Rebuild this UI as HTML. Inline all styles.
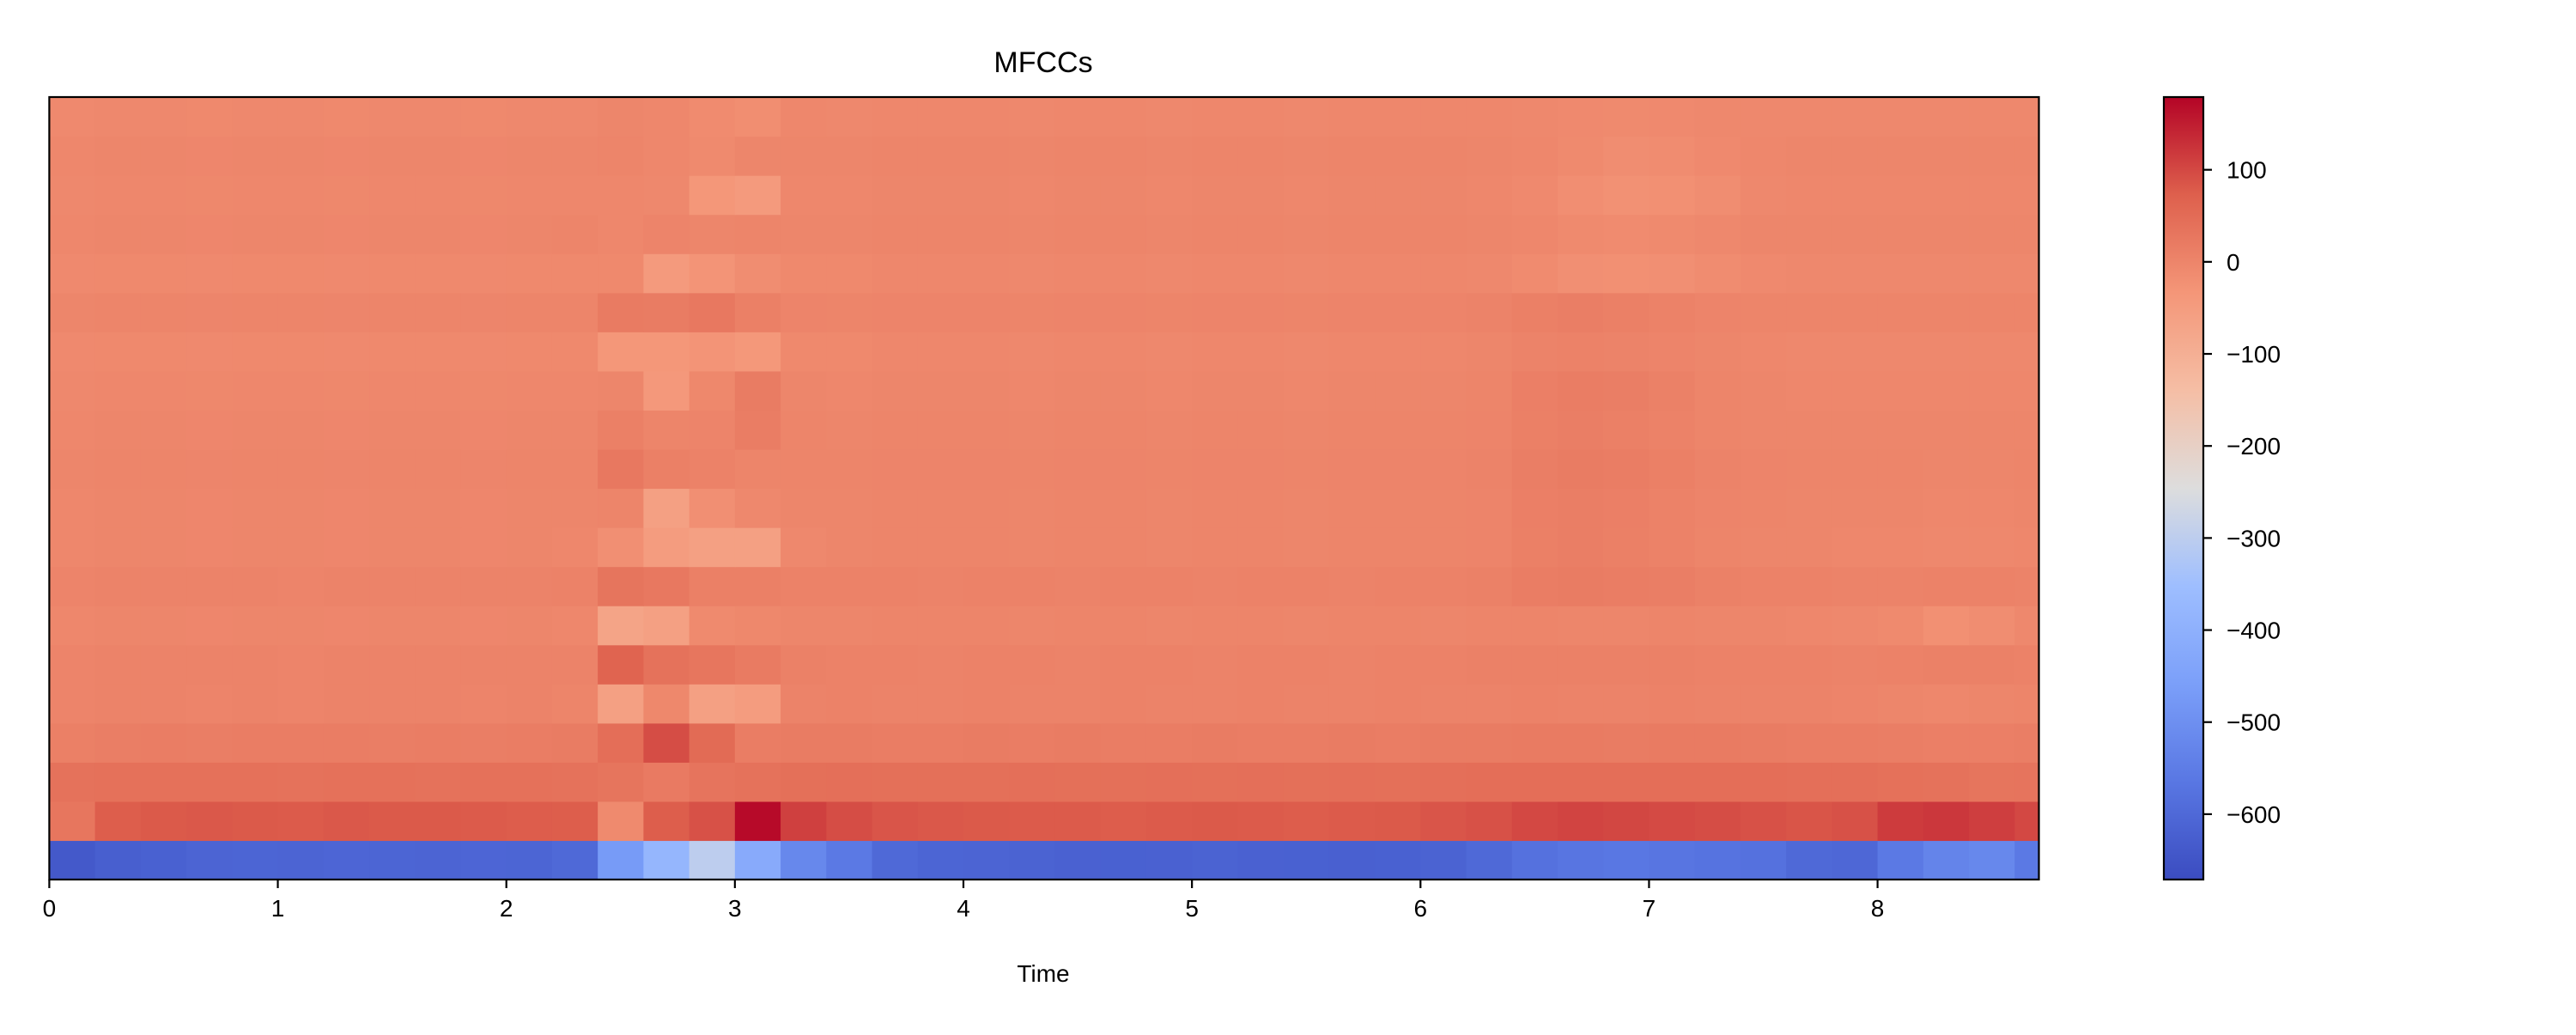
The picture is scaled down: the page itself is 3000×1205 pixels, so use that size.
<!DOCTYPE html>
<html><head><meta charset="utf-8"><style>
body{margin:0;background:#fff}
svg text{font-family:"Liberation Sans","DejaVu Sans",sans-serif;fill:#000}
</style></head><body>
<svg id="chart" width="3000" height="1200" viewBox="0 0 3000 1200">
<defs>
<clipPath id="plotclip"><rect x="57.4" y="113" width="2317.1" height="911"/></clipPath>
<linearGradient id="cbgrad" x1="0" y1="1" x2="0" y2="0">
<stop offset="0" stop-color="rgb(59,76,192)"/>
<stop offset="0.125" stop-color="rgb(89,119,227)"/>
<stop offset="0.25" stop-color="rgb(123,159,249)"/>
<stop offset="0.375" stop-color="rgb(158,190,255)"/>
<stop offset="0.5" stop-color="rgb(221,221,221)"/>
<stop offset="0.625" stop-color="rgb(245,190,165)"/>
<stop offset="0.75" stop-color="rgb(244,150,120)"/>
<stop offset="0.875" stop-color="rgb(222,96,77)"/>
<stop offset="1" stop-color="rgb(180,4,38)"/>
</linearGradient>
</defs>
<g id="cells" clip-path="url(#plotclip)"></g>
<rect x="57.4" y="113" width="2317.1" height="911" fill="none" stroke="#000" stroke-width="2.2"/>
<text x="1215" y="84" font-size="34" text-anchor="middle">MFCCs</text>
<g id="xaxis"></g>
<text x="1215" y="1143" font-size="28" text-anchor="middle">Time</text>
<rect x="2520" y="113" width="46" height="911" fill="url(#cbgrad)" stroke="#000" stroke-width="2.2"/>
<g id="cbaxis"></g>
</svg>
<script>
const times = [0.0,0.2,0.4,0.6,0.8,1.0,1.2,1.4,1.6,1.8,2.0,2.2,2.4,2.6,2.8,3.0,3.2,3.4,3.6,3.8,4.0,4.2,4.4,4.6,4.8,5.0,5.2,5.4,5.6,5.8,6.0,6.2,6.4,6.6,6.8,7.0,7.2,7.4,7.6,7.8,8.0,8.2,8.4,8.6];
const xTicks = [0,1,2,3,4,5,6,7,8];
const cbTicks = [100,0,-100,-200,-300,-400,-500,-600];
const cbLabels = ["100","0","\u2212100","\u2212200","\u2212300","\u2212400","\u2212500","\u2212600"];
const vmin = -671, vmax = 179, tmax = 8.706, colDur = 0.2;
// rows from bottom (c0) to top (c19)
const c0  = [-640,-625,-620,-612,-610,-612,-608,-610,-612,-608,-610,-600,-470,-380,-300,-420,-520,-560,-600,-610,-612,-615,-618,-620,-618,-615,-618,-620,-622,-620,-615,-600,-580,-570,-565,-570,-575,-580,-600,-605,-560,-530,-520,-560];
const c1  = [30,75,80,82,80,78,82,80,80,78,76,75,-10,75,90,172,110,95,85,82,80,78,78,76,78,80,78,76,78,80,85,90,100,105,102,98,95,90,86,90,115,120,112,100];
const c2  = [38,40,40,40,40,38,40,40,38,40,40,38,32,22,34,38,42,44,42,42,42,44,42,42,44,42,44,42,44,42,44,46,46,46,45,46,46,45,44,44,40,38,32,34];
const c3  = [10,14,15,14,15,16,15,14,15,14,16,18,45,95,52,15,18,18,16,16,18,16,18,16,16,18,16,16,18,16,18,18,20,20,18,20,20,18,16,16,14,12,12,14];
const c4  = [2,3,3,2,3,2,3,4,3,2,3,0,-60,-5,-60,-50,3,6,4,4,6,4,4,6,4,4,6,4,4,6,4,4,6,4,4,6,4,3,3,2,-2,-4,-2,0];
const c5  = [2,3,3,4,3,2,4,3,3,4,3,4,65,38,30,20,8,6,6,4,6,6,4,6,6,4,6,6,4,6,6,8,8,8,8,8,6,6,6,4,6,8,8,6];
const c6  = [-4,-2,-2,-3,-2,-2,-3,-2,-2,-3,-2,-4,-70,-60,-10,-5,-2,-2,0,0,0,-2,0,0,-2,0,0,-2,0,0,-2,0,0,-2,-2,0,-2,-2,-4,-6,-10,-22,-16,-6];
const c7  = [2,3,3,4,3,2,4,3,3,4,3,6,32,25,10,10,6,6,6,4,6,6,4,6,6,4,6,6,4,6,6,8,16,18,16,14,8,6,6,4,4,6,6,4];
const c8  = [-4,-2,-2,-3,-2,-2,-3,-2,-2,-3,-2,-4,-20,-50,-60,-60,-6,-2,0,0,0,-2,0,0,-2,0,0,-2,0,0,0,2,10,14,10,6,0,-2,-2,-4,-4,-6,-6,-4];
const c9  = [-4,-2,-2,-3,-2,-2,-3,-2,-2,-3,-2,-2,0,-60,-20,-6,-2,-2,0,0,0,-2,0,0,-2,0,0,-2,0,0,0,2,12,14,12,6,2,0,-2,-2,-2,-4,-4,-2];
const c10 = [-2,0,0,-1,0,0,-1,0,0,-1,0,0,25,10,5,0,0,0,2,2,2,0,2,2,0,2,2,0,2,2,2,4,14,18,16,10,4,2,0,0,0,-2,-2,0];
const c11 = [-4,-2,-2,-3,-2,-2,-3,-2,-2,-3,-2,-2,10,0,2,15,0,-2,0,0,0,-2,0,0,-2,0,0,-2,0,0,0,2,10,14,10,6,0,-2,-2,-2,-2,-2,-2,-2];
const c12 = [-6,-4,-4,-5,-4,-4,-5,-4,-4,-5,-4,-4,-2,-40,-5,18,-2,-4,-2,-2,-2,-4,-2,-2,-4,-2,-2,-4,-2,-2,-2,0,12,16,14,8,0,-2,-4,-4,-4,-4,-4,-4];
const c13 = [-8,-7,-7,-8,-7,-7,-8,-7,-7,-8,-7,-7,-35,-35,-30,-38,-7,-7,-4,-4,-4,-6,-4,-4,-6,-4,-4,-6,-4,-4,-4,-2,4,6,4,2,-2,-4,-6,-6,-6,-6,-6,-6];
const c14 = [-2,0,0,-1,0,0,-1,0,0,-1,0,0,20,18,25,10,2,0,2,2,2,0,2,2,0,2,2,0,2,2,2,4,10,14,10,6,2,0,0,0,0,0,0,0];
const c15 = [-8,-7,-7,-8,-7,-7,-8,-7,-7,-8,-7,-7,-7,-45,-30,-15,-7,-7,-4,-4,-4,-6,-4,-4,-6,-4,-4,-6,-4,-4,-4,-6,-12,-20,-22,-20,-14,-8,-6,-6,-6,-6,-6,-6];
const c16 = [-4,-2,-2,-3,-2,-2,-3,-2,-2,-3,-2,0,-4,2,-2,0,-2,-2,0,0,0,-2,0,0,-2,0,0,-2,0,0,0,-2,-4,-10,-12,-10,-6,-2,-2,-2,-2,-2,-2,-2];
const c17 = [-6,-4,-4,-5,-4,-4,-5,-4,-4,-5,-4,-4,-4,-6,-35,-45,-4,-4,-2,-2,-2,-4,-2,-2,-4,-2,-2,-4,-2,-2,-2,-4,-8,-18,-24,-22,-16,-6,-4,-4,-4,-4,-4,-4];
const c18 = [-4,-2,-2,-3,-2,-2,-3,-2,-2,-3,-2,-2,0,-4,-10,-2,-2,-2,0,0,0,-2,0,0,-2,0,0,-2,0,0,0,-2,-4,-10,-16,-14,-8,-4,-2,-2,-2,-2,-2,-2];
const c19 = [-8,-6,-6,-7,-6,-6,-7,-6,-6,-7,-6,-6,-2,-4,-12,-17,-4,-6,-4,-4,-4,-6,-4,-4,-6,-4,-4,-6,-4,-4,-4,-4,-6,-8,-10,-8,-6,-6,-6,-6,-6,-6,-6,-6];
const rows = [c0,c1,c2,c3,c4,c5,c6,c7,c8,c9,c10,c11,c12,c13,c14,c15,c16,c17,c18,c19];

const PX0 = 57.4, PX1 = 2374.5, PY0 = 113, PY1 = 1024;
const xScale = t => PX0 + (t / tmax) * (PX1 - PX0);
const rowH = (PY1 - PY0) / rows.length;
const rowY = i => PY1 - (i + 1) * rowH;
const cbY = v => PY0 + (vmax - v) / (vmax - vmin) * (PY1 - PY0);
const stops = [[0,59,76,192],[0.125,89,119,227],[0.25,123,159,249],[0.375,158,190,255],[0.5,221,221,221],[0.625,245,190,165],[0.75,244,150,120],[0.875,222,96,77],[1,180,4,38]];
function cmap(v){
  let f = Math.max(0, Math.min(1, (v - vmin) / (vmax - vmin)));
  for (let i = 0; i < stops.length - 1; i++){
    const a = stops[i], b = stops[i+1];
    if (f <= b[0]){
      const u = (f - a[0]) / (b[0] - a[0]);
      return `rgb(${Math.round(a[1]+u*(b[1]-a[1]))},${Math.round(a[2]+u*(b[2]-a[2]))},${Math.round(a[3]+u*(b[3]-a[3]))})`;
    }
  }
  return 'rgb(180,4,38)';
}
const NS = 'http://www.w3.org/2000/svg';
const cells = document.getElementById('cells');
rows.forEach((row, i) => {
  row.forEach((v, k) => {
    const r = document.createElementNS(NS, 'rect');
    const x0 = xScale(times[k]), x1 = xScale(times[k] + colDur);
    r.setAttribute('x', x0);
    r.setAttribute('y', rowY(i));
    r.setAttribute('width', x1 - x0 + 0.6);
    r.setAttribute('height', rowH + 0.6);
    r.setAttribute('fill', cmap(v));
    
    
    cells.appendChild(r);
  });
});
const xaxis = document.getElementById('xaxis');
xTicks.forEach(t => {
  const x = xScale(t);
  const l = document.createElementNS(NS, 'line');
  l.setAttribute('x1', x); l.setAttribute('x2', x);
  l.setAttribute('y1', PY1); l.setAttribute('y2', PY1 + 10);
  l.setAttribute('stroke', '#000'); l.setAttribute('stroke-width', '2.2');
  
  
  xaxis.appendChild(l);
  const tx = document.createElementNS(NS, 'text');
  tx.setAttribute('x', x); tx.setAttribute('y', PY1 + 43);
  tx.setAttribute('font-size', '28'); tx.setAttribute('text-anchor', 'middle');
  tx.textContent = String(t);
  
  
  xaxis.appendChild(tx);
});
const cbaxis = document.getElementById('cbaxis');
cbTicks.forEach((v, i) => {
  const y = cbY(v);
  const l = document.createElementNS(NS, 'line');
  l.setAttribute('x1', 2566); l.setAttribute('x2', 2576);
  l.setAttribute('y1', y); l.setAttribute('y2', y);
  l.setAttribute('stroke', '#000'); l.setAttribute('stroke-width', '2.2');
  
  
  cbaxis.appendChild(l);
  const tx = document.createElementNS(NS, 'text');
  tx.setAttribute('x', 2593); tx.setAttribute('y', y + 10);
  tx.setAttribute('font-size', '28');
  tx.textContent = cbLabels[i];
  
  
  cbaxis.appendChild(tx);
});
</script>
</body></html>
